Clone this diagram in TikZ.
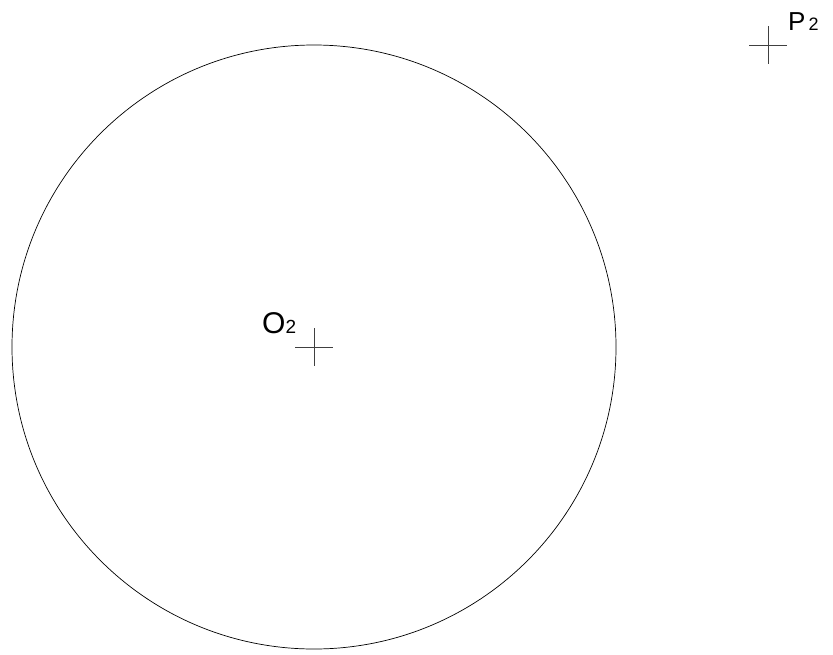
\documentclass[tikz,border=0pt]{standalone}
\usepackage{fontspec}
\setmainfont{Liberation Sans}
\usetikzlibrary{positioning,calc}
\tikzset{
  mark cross/.style = {line width = 0.6pt, black!75},
  lbl/.style = {inner sep = 0, anchor = base west}
}

\begin{document}
\begin{tikzpicture}[x=1pt, y=-1pt]
    \useasboundingbox (0,0) rectangle (833,654);
    \coordinate (O2) at (314,347);
    \coordinate (P2) at (768,45);
    \draw[line width = 0.7pt] (O2) circle (302);
    \foreach \p in {O2, P2} {
        \draw[mark cross] ($(\p)+(-19,0)$) -- ($(\p)+(19,0)$); % cross
        \draw[mark cross] ($(\p)+(0,-19)$) -- ($(\p)+(0,19)$);
    }
    \node[lbl] (o2label) at (262,333) {\fontsize{30}{30}\selectfont O\fontsize{19}{19}\selectfont 2};
    \node[lbl] (p2label) at (788,30) {\fontsize{26}{26}\selectfont P\hspace{3pt}\fontsize{18}{18}\selectfont 2};
\end{tikzpicture}
\end{document}
